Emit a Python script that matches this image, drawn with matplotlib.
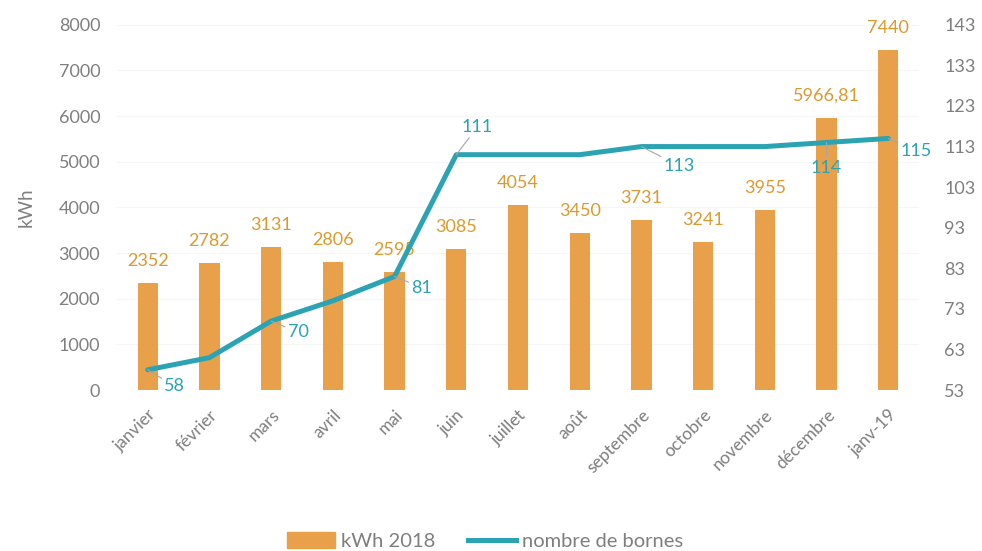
import matplotlib.pyplot as plt
from matplotlib.patches import Patch
from matplotlib.lines import Line2D

mois = ['janvier', 'février', 'mars', 'avril', 'mai', 'juin', 'juillet', 'août',
        'septembre', 'octobre', 'novembre', 'décembre', 'janv-19']
kwh = [2352, 2782, 3131, 2806, 2595, 3085, 4054, 3450, 3731, 3241, 3955, 5966.81, 7440]
kwh_txt = ['2352', '2782', '3131', '2806', '2595', '3085', '4054', '3450', '3731',
           '3241', '3955', '5966,81', '7440']
bornes = [58, 61, 70, 75, 81, 111, 111, 111, 113, 113, 113, 114, 115]
# quels points de la courbe ont une étiquette, et son décalage (points)
bornes_lbl = {0: (12, -12), 2: (12, -8), 4: (12, -8), 5: (4, 20), 8: (16, -14),
              11: (0, -18), 12: (9, -9)}

orange = '#E9A04A'
orange_txt = '#DB9A30'
teal = '#2BA3B3'
gris = '#7F7F7F'

plt.rcParams['font.family'] = ['Lato', 'DejaVu Sans']

fig = plt.figure(figsize=(9.82, 5.51), dpi=100)
ax = fig.add_axes([0.119, 0.292, 0.817, 0.663])
x = list(range(len(mois)))

ax.bar(x, kwh, width=0.33, color=orange, zorder=2)
for i, v in enumerate(kwh):
    ax.annotate(kwh_txt[i], (i, v), xytext=(0, 10), textcoords='offset points',
                ha='center', va='bottom', color=orange_txt, fontsize=13)

ax.set_ylim(0, 8000)
ax.set_yticks(range(0, 8001, 1000))
ax.set_xlim(-0.5, len(mois) - 0.5)
ax.set_xticks(x)
ax.set_xticklabels(mois, rotation=45, ha='right', rotation_mode='anchor')
ax.set_ylabel('kWh', color=gris, fontsize=13.5, labelpad=17)
ax.tick_params(length=0, colors=gris, labelsize=13)
ax.tick_params(axis='y', pad=12)
ax.tick_params(axis='x', labelsize=12.5, pad=12)
ax.grid(axis='y', color='#F6F6F6', linewidth=0.8, zorder=0)
ax.set_axisbelow(True)
for s in ax.spines.values():
    s.set_visible(False)

ax2 = ax.twinx()
ax2.plot(x, bornes, color=teal, linewidth=3.6, solid_capstyle='round', zorder=3)
ax2.set_ylim(53, 143)
ax2.set_yticks(range(53, 144, 10))
ax2.tick_params(length=0, colors=gris, labelsize=13, pad=18)
for s in ax2.spines.values():
    s.set_visible(False)
for i, (dx, dy) in bornes_lbl.items():
    ax2.annotate(str(bornes[i]), (i, bornes[i]), xytext=(dx, dy), textcoords='offset points',
                 ha='left' if dx > 0 else 'center', va='center', color=teal, fontsize=13,
                 arrowprops=dict(arrowstyle='-', color='#A6A6A6', lw=0.8,
                                 shrinkA=0, shrinkB=0))

handles = [Patch(color=orange), Line2D([0], [0], color=teal, lw=3.6)]
fig.legend(handles, ['kWh 2018', 'nombre de bornes'], loc='center',
           bbox_to_anchor=(0.494, 0.018), ncol=2, frameon=False, fontsize=14.5,
           labelcolor=gris, handlelength=2.4, handleheight=0.8, handletextpad=0.3,
           columnspacing=1.6)

plt.savefig('out.png')
